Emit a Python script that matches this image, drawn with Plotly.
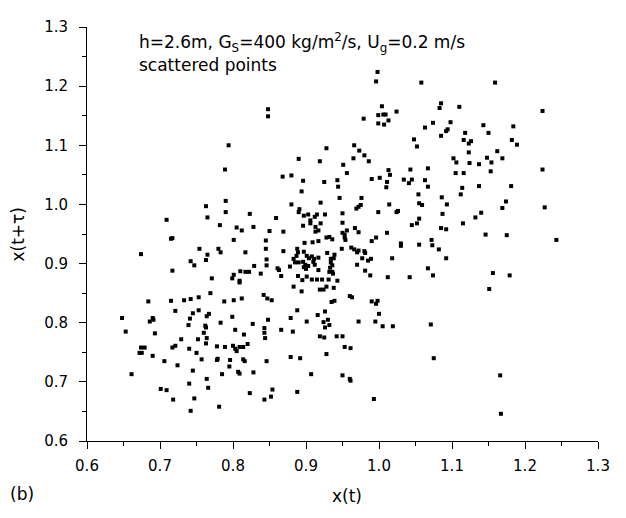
import plotly.graph_objects as go

# x(t) vs x(t+tau)
x_t = [
    0.794, 0.789,
    0.998, 0.996, 0.848, 0.848, 1.004, 0.999, 1.006, 1.009, 1.024, 0.979, 0.999, 1.007, 1.013,
    0.966, 0.973, 0.980, 0.965, 0.986, 0.928, 0.890, 0.919, 0.951, 0.956, 1.013, 1.015, 0.868,
    0.880, 0.896, 0.925, 0.943, 0.990, 1.001, 1.011, 1.034,
    1.058, 1.159, 1.224, 1.085, 1.083, 1.110, 1.074, 1.063, 1.098, 1.094, 1.092, 1.085, 1.118,
    1.143, 1.150, 1.184, 1.048, 1.052, 1.116, 1.126, 1.123, 1.182, 1.189, 1.123, 1.162, 1.102,
    1.106, 1.124, 1.137, 1.148, 1.154, 1.169, 1.153, 1.105, 1.116, 1.043, 1.067, 1.224, 1.045,
    1.041, 1.063, 1.243,
    0.790, 0.763, 0.790, 0.823, 0.765, 0.709, 0.782, 0.805, 0.812, 0.828, 0.801, 0.715, 0.717,
    0.674, 0.754, 0.765, 0.780, 0.783, 0.817, 0.742, 0.747, 0.763, 0.829, 0.717, 0.810, 0.817,
    0.822, 0.801, 0.771, 0.799, 0.809, 0.809, 0.769, 0.684, 0.715, 0.733, 0.742, 0.753, 0.788,
    0.801, 0.812,
    0.944, 1.010, 0.894, 0.946, 0.976, 0.880, 0.920, 0.975, 0.972, 0.969, 1.014, 0.891, 0.890,
    1.026, 1.024, 0.999, 0.903, 0.897, 0.915, 0.912, 0.926, 0.950, 0.859, 0.906, 0.906, 0.920,
    0.950, 0.896, 0.913, 0.967, 0.850, 0.869, 0.913, 0.917, 0.956, 0.950, 0.953, 0.953, 0.954,
    0.972, 1.011, 0.928, 0.932, 0.936, 0.996, 0.990, 1.030, 1.030, 0.845, 0.898, 0.909, 0.917,
    0.845, 0.869, 0.888, 0.889, 0.887, 0.897, 0.949, 0.962, 0.966, 0.972, 0.970, 0.980, 0.981,
    0.929, 0.939, 0.938, 0.934, 0.917, 0.901, 0.908, 0.904, 0.911, 0.883, 0.885, 0.890, 0.846,
    0.977, 0.989, 0.985, 1.018, 0.896, 0.899, 0.897, 0.903, 0.900, 0.910, 0.912, 0.878, 0.934,
    0.936, 0.933, 0.970, 0.846, 0.861, 0.863, 0.838, 0.917, 0.932, 0.936, 0.937, 0.981, 0.988,
    0.866, 0.889, 0.895, 0.901, 0.908, 0.915, 0.922, 0.931, 0.943, 1.012, 0.883, 0.894, 0.919,
    0.924, 0.928, 0.938, 0.842, 0.847, 0.853, 0.939, 0.960, 0.963, 0.990, 0.998,
    1.067, 1.114, 1.137, 1.181, 1.112, 1.054, 1.086, 1.174, 1.169, 1.227, 1.055, 1.059, 1.093,
    1.087, 1.140, 1.132, 1.055, 1.052, 1.045, 1.115, 1.085, 1.092, 1.146, 1.175, 1.072, 1.055,
    1.073, 1.082, 1.092, 1.067, 1.156, 1.042, 1.074, 1.179, 1.151,
    0.721, 0.648, 0.690, 0.686, 0.691, 0.745, 0.753, 0.741, 0.764, 0.767, 0.799, 0.827, 0.739,
    0.762, 0.763, 0.783, 0.653, 0.693, 0.760, 0.803, 0.815, 0.764, 0.729, 0.752, 0.763, 0.674,
    0.679, 0.672, 0.675, 0.717, 0.721, 0.740, 0.750, 0.778, 0.789, 0.800, 0.803, 0.805, 0.809,
    0.814, 0.820, 0.690, 0.706, 0.724, 0.757, 0.779, 0.778, 0.796, 0.814, 0.816, 0.795, 0.661,
    0.745, 0.785, 0.807, 0.809, 0.828, 0.740, 0.764, 0.766, 0.701, 0.709, 0.823, 0.718, 0.747,
    0.781, 0.742,
    0.935, 0.996, 0.888, 0.926, 0.916, 1.000, 0.848, 0.879, 0.901, 0.924, 0.930, 0.932, 0.926,
    0.972, 0.995, 1.005, 1.019, 0.843, 0.843, 0.844, 0.866, 0.882, 0.919, 0.925, 0.942, 0.950,
    0.953, 0.961, 0.928, 0.846, 0.879, 0.892, 0.907, 0.950, 0.960, 0.961, 0.854, 0.888, 0.843,
    0.852, 0.993,
    1.071, 1.075, 1.166, 1.167,
]
x_t_tau = [
    1.100, 1.059,
    1.224, 1.208, 1.161, 1.149, 1.166, 1.151, 1.152, 1.152, 1.157, 1.145, 1.137, 1.135, 1.142,
    1.100, 1.091, 1.083, 1.078, 1.073, 1.095, 1.077, 1.073, 1.067, 1.053, 1.058, 1.050, 1.047,
    1.049, 1.040, 1.038, 1.041, 1.043, 1.045, 1.038, 1.042,
    1.206, 1.206, 1.158, 1.171, 1.163, 1.165, 1.138, 1.130, 1.139, 1.127, 1.124, 1.116, 1.121,
    1.134, 1.121, 1.132, 1.110, 1.098, 1.109, 1.107, 1.103, 1.109, 1.101, 1.088, 1.090, 1.078,
    1.071, 1.070, 1.068, 1.079, 1.071, 1.078, 1.056, 1.053, 1.053, 1.059, 1.061, 1.059, 1.042,
    1.036, 1.041, 0.940,
    1.006, 0.997, 0.987, 0.984, 0.978, 0.974, 0.965, 0.961, 0.956, 0.962, 0.940, 0.942, 0.943,
    0.916, 0.925, 0.915, 0.925, 0.919, 0.919, 0.904, 0.897, 0.906, 0.896, 0.888, 0.887, 0.886,
    0.886, 0.881, 0.875, 0.875, 0.871, 0.868, 0.850, 0.836, 0.837, 0.838, 0.840, 0.843, 0.836,
    0.838, 0.841,
    1.030, 1.029, 1.022, 1.011, 1.011, 1.000, 1.003, 0.999, 0.996, 0.993, 1.000, 0.992, 0.987,
    0.989, 0.987, 0.987, 0.983, 0.981, 0.983, 0.979, 0.983, 0.985, 0.977, 0.973, 0.968, 0.968,
    0.969, 0.964, 0.962, 0.960, 0.955, 0.954, 0.954, 0.956, 0.956, 0.952, 0.949, 0.944, 0.940,
    0.953, 0.952, 0.944, 0.945, 0.941, 0.944, 0.938, 0.934, 0.930, 0.939, 0.935, 0.936, 0.938,
    0.925, 0.921, 0.925, 0.919, 0.913, 0.920, 0.925, 0.927, 0.924, 0.922, 0.919, 0.921, 0.918,
    0.918, 0.915, 0.909, 0.908, 0.910, 0.913, 0.912, 0.909, 0.908, 0.908, 0.902, 0.902, 0.907,
    0.909, 0.908, 0.905, 0.909, 0.903, 0.898, 0.894, 0.896, 0.891, 0.903, 0.898, 0.895, 0.902,
    0.897, 0.893, 0.898, 0.897, 0.892, 0.889, 0.883, 0.889, 0.886, 0.886, 0.883, 0.888, 0.880,
    0.879, 0.879, 0.872, 0.878, 0.873, 0.873, 0.873, 0.873, 0.871, 0.877, 0.861, 0.853, 0.856,
    0.856, 0.861, 0.859, 0.847, 0.841, 0.838, 0.837, 0.845, 0.843, 0.836, 0.837,
    1.030, 1.028, 1.031, 1.031, 1.017, 1.017, 1.012, 1.005, 0.994, 0.995, 1.002, 0.999, 1.000,
    0.984, 0.986, 0.978, 0.976, 0.968, 0.965, 0.968, 0.960, 0.958, 0.949, 0.948, 0.940, 0.932,
    0.931, 0.924, 0.909, 0.892, 0.884, 0.877, 0.880, 0.880, 0.857,
    0.820, 0.808, 0.808, 0.802, 0.805, 0.816, 0.821, 0.807, 0.811, 0.815, 0.810, 0.798, 0.796,
    0.795, 0.792, 0.800, 0.785, 0.782, 0.783, 0.788, 0.780, 0.774, 0.772, 0.772, 0.765, 0.758,
    0.758, 0.749, 0.749, 0.758, 0.761, 0.756, 0.749, 0.760, 0.759, 0.761, 0.756, 0.752, 0.759,
    0.759, 0.764, 0.744, 0.735, 0.728, 0.738, 0.739, 0.737, 0.737, 0.738, 0.735, 0.726, 0.713,
    0.719, 0.713, 0.717, 0.714, 0.716, 0.697, 0.705, 0.690, 0.688, 0.686, 0.681, 0.670, 0.672,
    0.658, 0.651,
    0.835, 0.832, 0.821, 0.819, 0.813, 0.815, 0.805, 0.808, 0.802, 0.801, 0.805, 0.796, 0.792,
    0.802, 0.802, 0.794, 0.794, 0.791, 0.783, 0.774, 0.788, 0.785, 0.777, 0.775, 0.777, 0.777,
    0.759, 0.757, 0.747, 0.735, 0.742, 0.740, 0.713, 0.711, 0.705, 0.702, 0.687, 0.683, 0.670,
    0.675, 0.671,
    0.797, 0.740, 0.711, 0.646,
]

tick_vals = [0.6, 0.7, 0.8, 0.9, 1.0, 1.1, 1.2, 1.3]
tick_text = ['0.6', '0.7', '0.8', '0.9', '1.0', '1.1', '1.2', '1.3']

FONT = 'DejaVu Sans, Liberation Sans, sans-serif'

fig = go.Figure(go.Scatter(
    x=x_t, y=x_t_tau, mode='markers',
    marker=dict(symbol='square', size=4, color='black', line=dict(width=0)),
))

axis_style = dict(
    range=[0.6, 1.3], tickvals=tick_vals, ticktext=tick_text,
    showline=True, linecolor='black', linewidth=1,
    ticks='outside', ticklen=7, tickwidth=1, tickcolor='black',
    minor=dict(ticks='outside', dtick=0.05, ticklen=4, tickcolor='black'),
    showgrid=False, zeroline=False,
    tickfont=dict(family=FONT, size=15, color='black'),
)
fig.update_xaxes(**axis_style, ticklabelstandoff=4)
fig.update_yaxes(**axis_style, ticklabelstandoff=8)

# page pixel -> paper fraction (plot area spans 87..598 x 18..441 on the page)
def px_x(p):
    return (p - 87) / 511

def px_y(p):
    return (441 - p) / 423

txt = dict(family=FONT, size=17, color='black')
fig.add_annotation(text='h=2.6m, G<sub>S</sub>=400 kg/m<sup>2</sup>/s, U<sub>g</sub>=0.2 m/s',
                   x=px_x(137), y=px_y(34), xref='paper', yref='paper',
                   xanchor='left', yanchor='middle', showarrow=False, font=txt)
fig.add_annotation(text='scattered points', x=px_x(137), y=px_y(57), xref='paper', yref='paper',
                   xanchor='left', yanchor='middle', showarrow=False, font=txt)
fig.add_annotation(text='x(t)', x=px_x(347), y=px_y(497), xref='paper', yref='paper',
                   xanchor='center', yanchor='middle', showarrow=False, font=txt)
fig.add_annotation(text='x(t+τ)', x=px_x(18), y=px_y(230), xref='paper', yref='paper',
                   xanchor='center', yanchor='middle', showarrow=False, font=txt, textangle=-90)
fig.add_annotation(text='(b)', x=px_x(8), y=px_y(495), xref='paper', yref='paper',
                   xanchor='left', yanchor='middle', showarrow=False, font=txt)

# the page body adds an 8px offset, so the figure is 8px smaller and margins shifted
fig.update_layout(
    width=618, height=510,
    margin=dict(l=79, r=28, t=10, b=77),
    plot_bgcolor='white', paper_bgcolor='white',
    showlegend=False,
)

fig.write_html('out.html')
